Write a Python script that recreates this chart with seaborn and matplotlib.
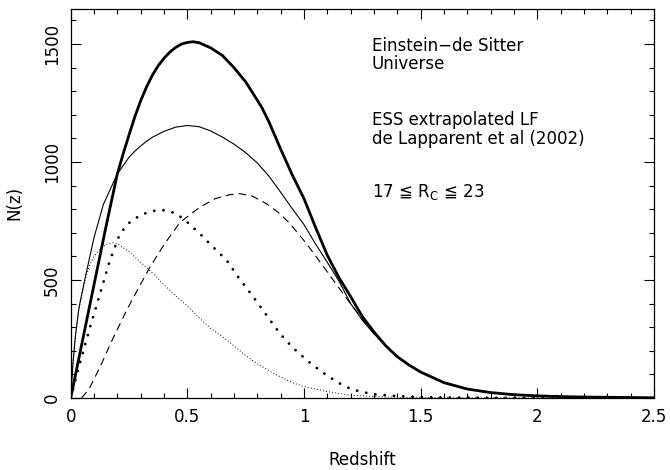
import numpy as np
import pandas as pd
import matplotlib
matplotlib.use("Agg")
import matplotlib.pyplot as plt
from matplotlib.ticker import MultipleLocator
import seaborn as sns

# Redshift distributions N(z), 17 <= R_C <= 23, Einstein-de Sitter universe
z_tail = [1.5, 1.6, 1.7, 1.8, 1.9, 2.0, 2.1, 2.2, 2.3, 2.4, 2.5]
n_tail = [110, 65, 38, 23, 14, 9, 6, 4, 3, 2, 1]

z_total = [0, 0.025, 0.05, 0.075, 0.1, 0.125, 0.15, 0.175, 0.2, 0.225, 0.25,
           0.275, 0.3, 0.325, 0.35, 0.375, 0.4, 0.425, 0.45, 0.475, 0.5, 0.525,
           0.55, 0.6, 0.65, 0.7, 0.75, 0.8, 0.82, 0.85, 0.9, 0.95, 1.0, 1.05,
           1.1, 1.15, 1.2, 1.25, 1.3, 1.35, 1.4, 1.45]
n_total = [0, 120, 240, 360, 480, 600, 720, 835, 950, 1035, 1115,
           1192, 1260, 1318, 1368, 1408, 1440, 1466, 1486, 1500, 1507, 1510,
           1506, 1484, 1452, 1400, 1340, 1262, 1230, 1170, 1055, 945, 845, 722,
           605, 510, 430, 345, 280, 222, 175, 140]

z_thin = [0, 0.01, 0.02, 0.035, 0.06, 0.1, 0.14, 0.2, 0.25, 0.275, 0.3, 0.325,
          0.35, 0.4, 0.45, 0.5, 0.55, 0.6, 0.65, 0.7, 0.75, 0.8, 0.85, 0.9,
          0.95, 1.0, 1.05, 1.1, 1.15, 1.2, 1.25, 1.3, 1.35, 1.4, 1.45]
n_thin = [0, 150, 260, 380, 500, 680, 820, 950, 1020, 1046, 1068, 1088,
          1105, 1130, 1148, 1155, 1150, 1132, 1106, 1076, 1040, 996, 940, 872,
          802, 735, 652, 575, 495, 400, 330, 272, 222, 175, 140]

z_fine = [0, 0.01, 0.02, 0.035, 0.06, 0.08, 0.1, 0.125, 0.15, 0.18, 0.2, 0.25,
          0.3, 0.35, 0.4, 0.47, 0.5, 0.55, 0.6, 0.67, 0.75, 0.8, 0.87, 0.95,
          1.0, 1.1, 1.2, 1.3, 1.4, 1.5, 1.7, 2.0, 2.5]
n_fine = [0, 150, 260, 375, 495, 560, 600, 630, 650, 657, 655, 620,
          575, 530, 480, 414, 390, 340, 295, 245, 180, 145, 104, 65,
          48, 27, 12, 6, 3, 1.5, 0.5, 0, 0]

z_dots = [0, 0.04, 0.083, 0.126, 0.168, 0.211, 0.25, 0.297, 0.34, 0.383, 0.42,
          0.454, 0.5, 0.554, 0.6, 0.669, 0.72, 0.783, 0.84, 0.897, 0.95, 1.011,
          1.07, 1.126, 1.17, 1.211, 1.254, 1.3, 1.4, 1.5, 1.6, 1.8, 2.0, 2.5]
n_dots = [0, 150, 300, 443, 583, 696, 742, 774, 790, 798, 792,
          781, 745, 696, 650, 583, 510, 428, 350, 273, 215, 161,
          115, 78, 52, 35, 25, 16, 8, 4, 2, 1, 0, 0]

z_dash = [0.047, 0.08, 0.126, 0.18, 0.24, 0.29, 0.34, 0.4, 0.469, 0.554, 0.62,
          0.683, 0.726, 0.78, 0.84, 0.897, 0.94, 1.011, 1.07, 1.126, 1.19,
          1.254, 1.3, 1.35, 1.4, 1.45]
n_dash = [0, 40, 132, 250, 372, 465, 555, 650, 745, 809, 845,
          862, 866, 855, 823, 781, 739, 654, 575, 499, 412,
          330, 272, 222, 175, 140]

x_ticks = [0, 0.5, 1, 1.5, 2, 2.5]
x_ticklabels = ["0", "0.5", "1", "1.5", "2", "2.5"]
y_ticks = [0, 500, 1000, 1500]
y_ticklabels = ["0", "500", "1000", "1500"]

sns.set_style("ticks")
plt.rcParams["font.family"] = ["DejaVu Sans", "Noto Sans CJK SC"]
plt.rcParams["mathtext.default"] = "regular"
for key in ("text.color", "axes.labelcolor", "xtick.color", "ytick.color",
            "xtick.labelcolor", "ytick.labelcolor"):
    plt.rcParams[key] = "black"

fig = plt.figure(figsize=(6.7, 4.7), dpi=100)
ax = fig.add_axes([0.1055, 0.1532, 0.976 - 0.1055, 0.9815 - 0.1532])


def draw(z, n, tail, **kw):
    zz = list(z) + (z_tail if tail else [])
    nn = list(n) + (n_tail if tail else [])
    df = pd.DataFrame({"z": zz, "n": nn})
    sns.lineplot(data=df, x="z", y="n", ax=ax, sort=False, estimator=None,
                 color="black", **kw)


draw(z_fine, n_fine, False, linewidth=0.7, linestyle=(0, (1, 2.2)))
draw(z_dots, n_dots, False, linewidth=2.0, linestyle=(0, (0.05, 3.3)),
     dash_capstyle="round")
draw(z_dash, n_dash, True, linewidth=0.8, linestyle=(0, (7, 4.5)))
draw(z_thin, n_thin, True, linewidth=0.8)
draw(z_total, n_total, True, linewidth=2.0)

ax.set_xlim(0, 2.5)
ax.set_ylim(0, 1650)
ax.set_xticks(x_ticks)
ax.set_xticklabels(x_ticklabels)
ax.set_yticks(y_ticks)
ax.set_yticklabels(y_ticklabels, rotation=90, va="center")
ax.xaxis.set_minor_locator(MultipleLocator(0.1))
ax.yaxis.set_minor_locator(MultipleLocator(100))
ax.tick_params(which="both", direction="in", top=True, right=True,
               color="black", width=0.8, labelsize=12, pad=7)
ax.tick_params(which="major", length=7)
ax.tick_params(which="minor", length=3.6)
for s in ax.spines.values():
    s.set_linewidth(0.9)
    s.set_color("black")

ax.set_xlabel("Redshift", fontsize=12, labelpad=18)
ax.set_ylabel("N(z)", fontsize=12, labelpad=14)

txt = dict(fontsize=12, transform=ax.transData, va="baseline", ha="left")
ax.text(1.29, 1470, "Einstein\u2212de Sitter", **txt)
ax.text(1.29, 1395, "Universe", **txt)
ax.text(1.29, 1155, "ESS extrapolated LF", **txt)
ax.text(1.29, 1075, "de Lapparent et al (2002)", **txt)
ax.text(1.29, 850, "17 \u2266 $R_C$ \u2266 23", **txt)

fig.savefig("out.png", dpi=100)
